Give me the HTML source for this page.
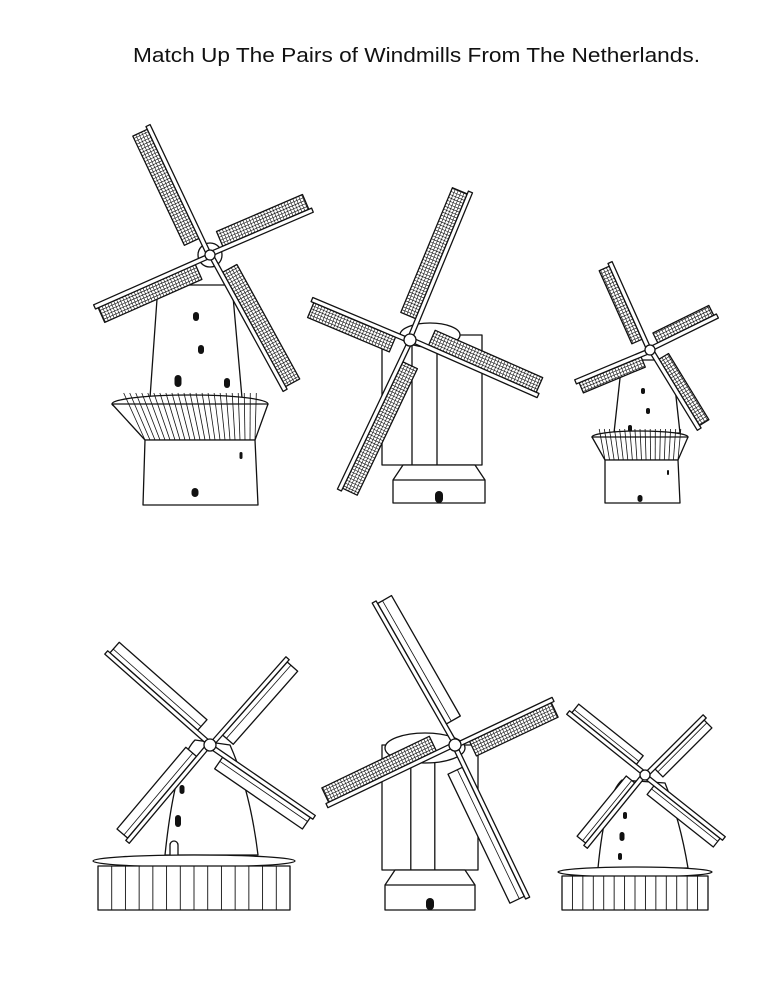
<!DOCTYPE html>
<html><head><meta charset="utf-8">
<style>
html,body{margin:0;padding:0;background:#fff;}
svg{display:block;}
</style></head>
<body>
<svg id="s" width="773" height="1000" viewBox="0 0 773 1000" xmlns="http://www.w3.org/2000/svg">
<rect width="773" height="1000" fill="#fff"/>
<text x="133" y="62" font-family="Liberation Sans, sans-serif" font-size="20" textLength="567" lengthAdjust="spacingAndGlyphs" fill="#111">Match Up The Pairs of Windmills From The Netherlands.</text>
<g id="d" fill="none" stroke="#111" stroke-width="1.3" stroke-linejoin="round"></g>
</svg>
<script>
var g=document.getElementById('d');var out='';
function L(a,b,c,d,w){out+='<line x1="'+a+'" y1="'+b+'" x2="'+c+'" y2="'+d+'"'+(w?' stroke-width="'+w+'"':'')+'/>';}
function P(pts,fill){out+='<polygon points="'+pts.map(function(p){return p[0].toFixed(1)+','+p[1].toFixed(1)}).join(' ')+'" fill="'+(fill||'#fff')+'"/>';}
function sail(hx,hy,tx,ty,w,hatch,side){
 var dx=tx-hx,dy=ty-hy,len=Math.hypot(dx,dy),ux=dx/len,uy=dy/len,nx=-uy*side,ny=ux*side;
 var s=len*0.14;
 var a=[hx+ux*s,hy+uy*s],b=[tx,ty];
 var q=[[a[0]+nx*3,a[1]+ny*3],[b[0]+nx*3,b[1]+ny*3],[b[0]+nx*(3+w),b[1]+ny*(3+w)],[a[0]+nx*(3+w),a[1]+ny*(3+w)]];
 P(q);
 if(hatch){
  for(var t=s+3;t<len;t+=3.2){var px=hx+ux*t,py=hy+uy*t;L(px+nx*3,py+ny*3,px+nx*(3+w),py+ny*(3+w),0.6);}
  for(var k=1;k<w/3.2;k++){var o=3+k*3.2;L(a[0]+nx*o,a[1]+ny*o,b[0]+nx*o,b[1]+ny*o,0.6);}
 } else {
  L(a[0]+nx*(3+w*0.35),a[1]+ny*(3+w*0.35),b[0]+nx*(3+w*0.35),b[1]+ny*(3+w*0.35),0.8);
 }
 P([[hx-nx*1.5,hy-ny*1.5],[tx+ux*3-nx*1.5,ty+uy*3-ny*1.5],[tx+ux*3+nx*3,ty+uy*3+ny*3],[hx+nx*3,hy+ny*3]]);
}
function tower(x1t,x2t,yt,x1b,x2b,yb){P([[x1t,yt],[x2t,yt],[x2b,yb],[x1b,yb]]);}
function win(x,y,w,h){out+='<rect x="'+(x-w/2)+'" y="'+y+'" width="'+w+'" height="'+h+'" rx="'+(w/2)+'" fill="#111" stroke="none"/>';}
function gallery(cx,y,rx,ry,x1b,x2b,yb,n){
 out+='<ellipse cx="'+cx+'" cy="'+y+'" rx="'+rx+'" ry="'+ry+'" fill="#fff"/>';
 P([[cx-rx,y],[cx+rx,y],[x2b,yb],[x1b,yb]]);
 for(var i=0;i<=n;i++){var f=i/n;L(cx-rx*0.85+2*rx*0.85*f,y-ry-2,x1b+(x2b-x1b)*f,yb,0.8);}
}
function postmill(bx1,bx2,by1,by2,ba1,ba2,bb){
 tower(bx1,bx2,by1,bx1,bx2,by2);
 L(bx1+(bx2-bx1)*0.3,by1,bx1+(bx2-bx1)*0.3,by2);L(bx1+(bx2-bx1)*0.55,by1,bx1+(bx2-bx1)*0.55,by2);
 P([[ba1+10,by2],[ba2-10,by2],[ba2,by2+15],[ba2,bb],[ba1,bb],[ba1,by2+15]]);
 L(ba1,by2+15,ba2,by2+15);
 var cx=(ba1+ba2)/2;win(cx,bb-12,8,12);
}
function posts(x1,x2,y1,y2,n){P([[x1,y1],[x2,y1],[x2,y2],[x1,y2]]);for(var i=1;i<n;i++){var x=x1+(x2-x1)*i/n;L(x,y1,x,y2,0.9);}}

tower(158,232,285,150,242,398);
win(196,312,6,9);win(201,345,6,9);win(178,375,7,12);win(227,378,6,10);
gallery(190,404,78,9,145,255,440,22);
tower(145,255,440,143,258,505);win(195,488,7,9);win(241,452,3,7);
out+='<circle cx="210" cy="255" r="12" fill="#fff"/>';
sail(210,255,150,128,16,1,-1);sail(210,255,310,212,16,1,-1);sail(210,255,97,305,16,1,-1);sail(210,255,283,388,16,1,-1);
out+='<circle cx="210" cy="255" r="5" fill="#fff"/>';
postmill(382,482,335,465,393,485,503);
out+='<ellipse cx="430" cy="335" rx="30" ry="12" fill="#fff"/>';
sail(410,340,470,195,16,1,-1);sail(410,340,315,300,16,1,-1);sail(410,340,340,487,16,1,-1);sail(410,340,535,395,16,1,-1);
out+='<circle cx="410" cy="340" r="6" fill="#fff"/>';
tower(622,672,360,614,680,433);win(643,388,4,6);win(648,408,4,6);win(630,425,4,7);
gallery(640,437,48,6,605,678,460,16);
tower(605,678,460,605,680,503);win(640,495,5,7);win(668,470,2,5);
sail(650,350,612,265,11,1,-1);sail(650,350,715,318,11,1,-1);sail(650,350,578,380,11,1,-1);sail(650,350,697,427,11,1,-1);
out+='<circle cx="650" cy="350" r="5" fill="#fff"/>';
out+='<path d="M165 855 Q175 760 195 740 L230 745 Q250 790 258 855 Z" fill="#fff"/>';
win(182,785,5,9);win(178,815,6,12);win(172,842,5,9);
out+='<path d="M170 855 v-10 a4 4 0 0 1 8 0 v10" fill="#fff"/>';
out+='<ellipse cx="194" cy="861" rx="101" ry="6" fill="#fff"/>';
posts(98,290,866,910,14);
sail(210,745,108,655,14,0,1);sail(210,745,285,660,14,0,1);sail(210,745,130,840,14,0,1);sail(210,745,312,815,14,0,1);
out+='<circle cx="210" cy="745" r="6" fill="#fff"/>';
postmill(382,478,745,870,385,475,910);
out+='<ellipse cx="425" cy="748" rx="40" ry="15" fill="#fff"/>';
sail(455,745,375,605,16,0,1);sail(455,745,550,700,16,1,1);sail(455,745,330,805,16,1,1);sail(455,745,527,895,16,0,1);
out+='<circle cx="455" cy="745" r="6" fill="#fff"/>';
out+='<path d="M598 868 Q605 795 622 780 L665 783 Q680 820 688 868 Z" fill="#fff"/>';
win(625,812,4,7);win(622,832,5,9);win(620,853,4,7);
out+='<ellipse cx="635" cy="872" rx="77" ry="5" fill="#fff"/>';
posts(562,708,876,910,14);
sail(645,775,570,715,11,0,1);sail(645,775,702,718,11,0,1);sail(645,775,588,845,11,0,1);sail(645,775,722,836,11,0,1);
out+='<circle cx="645" cy="775" r="5" fill="#fff"/>';
g.innerHTML=out;
</script>
</body></html>
